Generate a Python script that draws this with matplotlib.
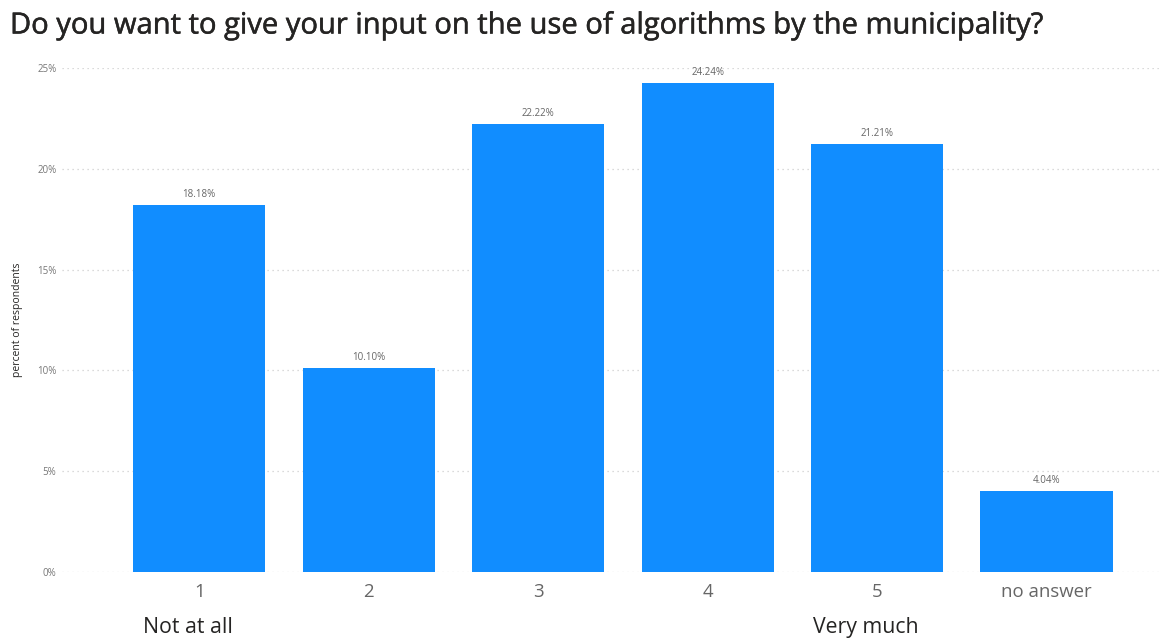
import matplotlib.pyplot as plt
import matplotlib.patheffects as pe
from matplotlib.ticker import FuncFormatter

categories = ["1", "2", "3", "4", "5", "no answer"]
percentages = [18.18, 10.10, 22.22, 24.24, 21.21, 4.04]
yticks = [0, 5, 10, 15, 20, 25]
scale_ends = {0: "Not at all", 4: "Very much"}

plt.rcParams['font.family'] = ['Open Sans', 'DejaVu Sans']

fig = plt.figure(figsize=(11.76, 6.4), dpi=100)
ax = fig.add_axes([62 / 1176, 68 / 640, (1160 - 62) / 1176, (572 - 68) / 640])

x = list(range(len(categories)))
bars = ax.bar(x, percentages, width=0.78, color="#118DFF", zorder=3)

for xi, v in zip(x, percentages):
    ax.text(xi, v + 0.25, f"{v:.2f}%", ha="center", va="bottom",
            fontsize=7, color="#666666")

ax.set_xlim(-0.81, 5.67)
ax.set_ylim(0, 25)
ax.set_yticks(yticks)
ax.yaxis.set_major_formatter(FuncFormatter(lambda v, p: f"{v:.0f}%"))
ax.grid(axis="y", color="#cfcfcf", linestyle=(0, (1, 3)), linewidth=0.9, zorder=0)

ax.set_xticks(x)
ax.set_xticklabels(categories, fontsize=13.4, color="#666666")
ax.tick_params(axis="x", length=0, pad=8)
ax.tick_params(axis="y", length=0, labelsize=7, labelcolor="#777777", pad=4)
for s in ax.spines.values():
    s.set_visible(False)

for xi, txt in scale_ends.items():
    ax.text(xi - 0.065, -2.73, txt, ha="center", va="center", fontsize=15.3,
            color="#252423", transform=ax.transData, clip_on=False)

fig.text(18 / 1176, 1 - 320 / 640, "percent of respondents", rotation=90,
         ha="center", va="center", fontsize=7.5, color="#252423")

fig.text(10 / 1176, 1 - 26 / 640,
         "Do you want to give your input on the use of algorithms by the municipality?",
         ha="left", va="center", fontsize=21, color="#252423",
         path_effects=[pe.withStroke(linewidth=0.35, foreground="#252423")])

fig.savefig("out.png", dpi=100, facecolor="white")
